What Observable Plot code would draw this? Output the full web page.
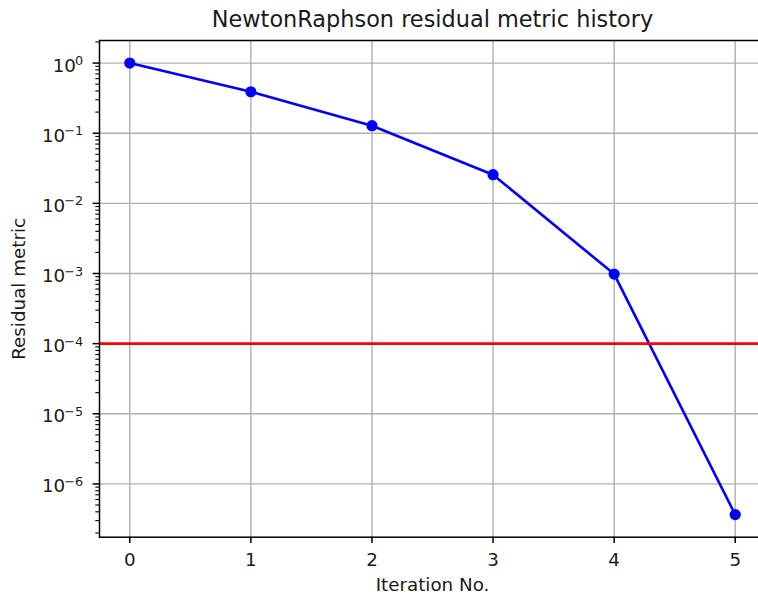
<!DOCTYPE html>
<html>
<head>
<meta charset="utf-8">
<script src="https://cdn.jsdelivr.net/npm/d3@7"></script>
<script src="https://cdn.jsdelivr.net/npm/@observablehq/plot@0.6"></script>
<style>
  body { margin: 0; background: white; }
  #chart svg { display: block; font-family: "DejaVu Sans", sans-serif; }
</style>
</head>
<body>
<div id="chart"></div>
<script>
// Newton-Raphson convergence history
const titleText = "NewtonRaphson residual metric history";
const xLabel = "Iteration No.";
const yLabel = "Residual metric";
const iterations = [0, 1, 2, 3, 4, 5];
const residuals = [1, 0.39, 0.128, 0.0256, 0.00098, 3.65e-7];
const tolerance = 1e-4;
const xTicks = [0, 1, 2, 3, 4, 5];
const yExponents = [0, -1, -2, -3, -4, -5, -6];

const data = iterations.map((it, i) => ({iteration: it, residual: residuals[i]}));

// 5% padding on each side, in log space for y
const lo = Math.log10(d3.min(residuals)), hi = Math.log10(d3.max(residuals));
const pad = (hi - lo) * 0.05;
const yDomain = [10 ** (lo - pad), 10 ** (hi + pad)];
const xPad = (d3.max(iterations) - d3.min(iterations)) * 0.05;
const xDomain = [d3.min(iterations) - xPad, d3.max(iterations) + xPad];

const yMajor = yExponents.map(e => 10 ** e);
const yMinor = [];
for (let e = Math.floor(lo - pad); e <= Math.ceil(hi + pad); e++) {
  for (let m = 2; m <= 9; m++) {
    const v = m * 10 ** e;
    if (v >= yDomain[0] && v <= yDomain[1]) yMinor.push(v);
  }
}

const ink = "#1a1a1a";
const font = "DejaVu Sans";
const fs = 18.3;
const grid = {stroke: "#b0b0b0", strokeOpacity: 1, strokeWidth: 1.4};

const chart = Plot.plot({
  width: 758,
  height: 598,
  marginLeft: 99,
  marginTop: 40,
  marginBottom: 61.3,
  marginRight: -7,
  style: "font-family: 'DejaVu Sans', sans-serif; font-size: 18.3px; color: #1a1a1a; background: white;",
  x: {domain: xDomain},
  y: {type: "log", domain: yDomain},
  marks: [
    Plot.gridX(xTicks, grid),
    Plot.gridY(yMajor, grid),
    Plot.line(data, {x: "iteration", y: "residual", stroke: "blue", strokeWidth: 2.6}),
    Plot.dot(data, {x: "iteration", y: "residual", r: 5.6, fill: "blue", stroke: null}),
    Plot.ruleY([tolerance], {stroke: "red", strokeWidth: 2.6}),
    Plot.frame({stroke: "black", strokeWidth: 1.5}),
    Plot.axisX(xTicks, {tickSize: 6.4, tickPadding: 9.5, label: null, stroke: "black", strokeWidth: 1.5,
      fontSize: fs, fontFamily: font, fill: ink, tickFormat: d => String(d)}),
    Plot.axisY(yMinor, {tickSize: 3.7, tickFormat: () => "", label: null, stroke: "black", strokeWidth: 1.1}),
    Plot.axisY(yMajor, {tickSize: 6.4, tickPadding: 10, label: null, stroke: "black", strokeWidth: 1.5,
      fontSize: fs, fontFamily: font, fill: ink,
      tickFormat: d => "10^" + Math.round(Math.log10(d))}),
    Plot.text([titleText], {frameAnchor: "top", dy: -21, fontSize: 22.4, fontFamily: font, fill: ink, lineAnchor: "middle"}),
    Plot.text([xLabel], {frameAnchor: "bottom", dy: 48, fontSize: fs, fontFamily: font, fill: ink, lineAnchor: "middle"}),
    Plot.text([yLabel], {frameAnchor: "left", dx: -80, rotate: -90, fontSize: fs, fontFamily: font, fill: ink, lineAnchor: "middle", textAnchor: "middle"})
  ]
});

// Write the decade labels as 10 with a raised exponent
chart.querySelectorAll("text").forEach(node => {
  const m = /^10\^(-?\d+)$/.exec(node.textContent);
  if (!m) return;
  const exp = m[1].replace("-", "\u2212");
  while (node.firstChild) node.removeChild(node.firstChild);
  const ns = "http://www.w3.org/2000/svg";
  const base = document.createElementNS(ns, "tspan");
  base.setAttribute("dy", "2.7");
  base.textContent = "10";
  const sup = document.createElementNS(ns, "tspan");
  sup.setAttribute("dy", "-6.5");
  sup.setAttribute("dx", "-1");
  sup.setAttribute("font-size", "12.8");
  sup.textContent = exp;
  node.appendChild(base);
  node.appendChild(sup);
});

document.getElementById("chart").appendChild(chart);
</script>
</body>
</html>
